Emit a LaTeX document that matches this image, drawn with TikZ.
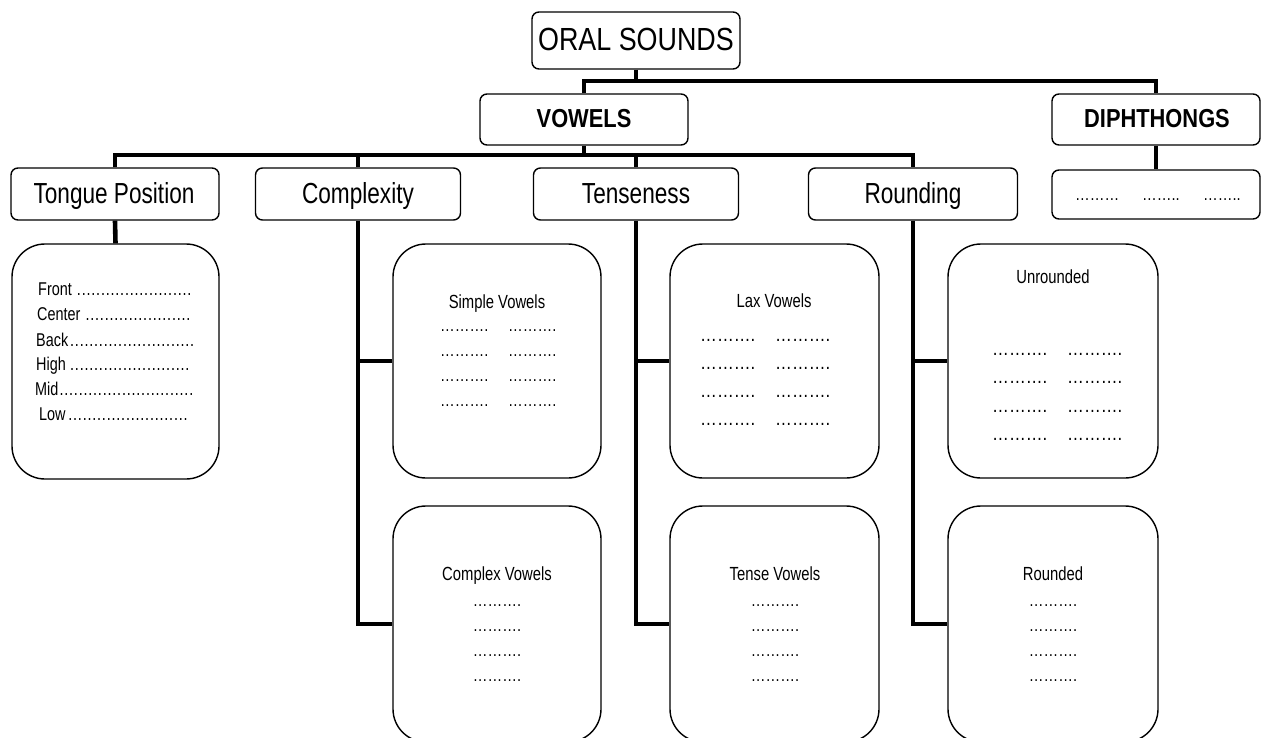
\documentclass[tikz,border=0pt]{standalone}
\usepackage{fontspec}
\setmainfont{Liberation Sans}[FakeStretch=0.84]
\newfontfamily\narrowfont{Liberation Sans}[FakeStretch=0.78]
\newcommand\myleaders{\leaders\hbox to 4.8pt{\hss.\hss}\hfill}
\newcommand\fsz[1]{\fontsize{#1}{#1}\selectfont}
\begin{document}
\begin{tikzpicture}[x=1pt,y=-1pt,
  sbox/.style={draw,line width=1.4pt,rounded corners=7pt,inner sep=0pt},
  bbox/.style={draw,line width=1.4pt,rounded corners=33pt,inner sep=0pt},
  conn/.style={line width=4.6pt,line join=miter},
  txt/.style={inner sep=0pt,anchor=base},
  lvl/.style={txt,font=\narrowfont\fsz{29}},
  small/.style={txt,font=\fsz{17.5}},
  ttl/.style={txt,font=\narrowfont\fsz{19}},
  dotb/.style={txt,font=\fsz{20}}]
\useasboundingbox (0,0) rectangle (1269,738);
\clip (0,0) rectangle (1269,738);

% boxes
\node[sbox,minimum width=208,minimum height=57] (oral) at (636,40.5) {};
\node[sbox,minimum width=208,minimum height=51] (vowels) at (584,119.5) {};
\node[sbox,minimum width=208,minimum height=51] (diph) at (1156,119.5) {};
\node[sbox,minimum width=208,minimum height=49] (diphdots) at (1156,194.5) {};
\node[sbox,minimum width=208,minimum height=52] (tongue) at (115,194) {};
\node[sbox,minimum width=205,minimum height=52] (complexity) at (358,194) {};
\node[sbox,minimum width=205,minimum height=52] (tenseness) at (636,194) {};
\node[sbox,minimum width=209,minimum height=52] (rounding) at (913,194) {};
\node[bbox,minimum width=207,minimum height=235] (tonguebox) at (115.5,361.5) {};
\node[bbox,minimum width=208,minimum height=234] (simple) at (497,361) {};
\node[bbox,minimum width=209,minimum height=234] (lax) at (774.5,361) {};
\node[bbox,minimum width=210,minimum height=234] (unrounded) at (1053,361) {};
\node[bbox,minimum width=208,minimum height=236] (complex) at (497,624) {};
\node[bbox,minimum width=209,minimum height=236] (tense) at (774.5,624) {};
\node[bbox,minimum width=210,minimum height=236] (rounded) at (1053,624) {};

% connectors
\coordinate (bar1) at (636,81);
\coordinate (bar2) at (636,155);
\draw[conn] (oral.south) -- (oral.south |- bar1);
\draw[conn] (vowels.north) -- (vowels.north |- bar1) -- (diph.north |- bar1) -- (diph.north);
\draw[conn] (diph.south) -- (diphdots.north);
\draw[conn] (vowels.south) -- (vowels.south |- bar2);
\draw[conn] (tongue.north) -- (tongue.north |- bar2) -- (rounding.north |- bar2) -- (rounding.north);
\draw[conn] (complexity.north) -- (complexity.north |- bar2);
\draw[conn] (tenseness.north) -- (tenseness.north |- bar2);
\draw[conn] (tongue.south) -- (tonguebox.north);
\draw[conn] (complexity.south) |- (complex.west);
\draw[conn] (complexity.south |- simple.west) -- (simple.west);
\draw[conn] (tenseness.south) |- (tense.west);
\draw[conn] (tenseness.south |- lax.west) -- (lax.west);
\draw[conn] (rounding.south) |- (rounded.west);
\draw[conn] (rounding.south |- unrounded.west) -- (unrounded.west);

% titles
\node[txt,font=\fsz{32}] (toral) at (636,51) {ORAL SOUNDS};
\node[txt,font=\fsz{26}\bfseries] (tvowels) at (584,128) {VOWELS};
\node[txt,font=\fsz{26}\bfseries] (tdiph) at (1157,128) {DIPHTHONGS};
\node[lvl] (ttongue) at (114,204) {Tongue Position};
\node[lvl] (tcomplexity) at (358,204) {Complexity};
\node[lvl] (ttense) at (636,204) {Tenseness};
\node[lvl] (tround) at (913,204) {Rounding};

% diphthong dots
\node[small,anchor=base west] (dd1) at (1075,201) {………};
\node[small,anchor=base west] (dd2) at (1142,201) {……..};
\node[small,anchor=base west] (dd3) at (1203,201) {……..};

% tongue list
\begin{scope}[every node/.append style={font=\narrowfont\fsz{18.5}}]
\node[txt,anchor=base west] (l1) at (38,295) {\hbox to 154pt{Front \myleaders}};
\node[txt,anchor=base west] (l2) at (37,320) {\hbox to 155pt{Center\myleaders}};
\node[txt,anchor=base west] (l3) at (36,346) {\hbox to 159pt{Back\myleaders}};
\node[txt,anchor=base west] (l4) at (36,370) {\hbox to 156pt{High\myleaders}};
\node[txt,anchor=base west] (l5) at (35,395) {\hbox to 160pt{Mid\myleaders}};
\node[txt,anchor=base west] (l6) at (39,420) {\hbox to 153pt{Low\myleaders}};
\end{scope}

% simple vowels
\node[ttl] (tsimple) at (497,308) {Simple Vowels};
\foreach \y [count=\i] in {331,356,381,406}{
  \node[small,anchor=base west] (sa\i) at (440,\y) {……….};
  \node[small,anchor=base west] (sb\i) at (508,\y) {……….};
}
% complex vowels
\node[ttl] (tcomplex) at (497,580) {Complex Vowels};
\foreach \y [count=\i] in {606,631,656,681}{
  \node[small] (ca\i) at (497,\y) {……….};
}
% lax vowels
\node[ttl] (tlax) at (774,307) {Lax Vowels};
\foreach \y [count=\i] in {341,369,397,425}{
  \node[dotb,anchor=base west] (la\i) at (700,\y) {……….};
  \node[dotb,anchor=base west] (lb\i) at (775,\y) {……….};
}
% tense vowels
\node[ttl] (ttensev) at (775,580) {Tense Vowels};
\foreach \y [count=\i] in {606,631,656,681}{
  \node[small] (ta\i) at (775,\y) {……….};
}
% unrounded
\node[ttl] (tunr) at (1053,283) {Unrounded};
\foreach \y [count=\i] in {355,383,412,440}{
  \node[dotb,anchor=base west] (ua\i) at (992,\y) {……….};
  \node[dotb,anchor=base west] (ub\i) at (1067,\y) {……….};
}
% rounded
\node[ttl] (trnd) at (1053,580) {Rounded};
\foreach \y [count=\i] in {606,631,656,681}{
  \node[small] (ra\i) at (1053,\y) {……….};
}
\end{tikzpicture}
\end{document}
